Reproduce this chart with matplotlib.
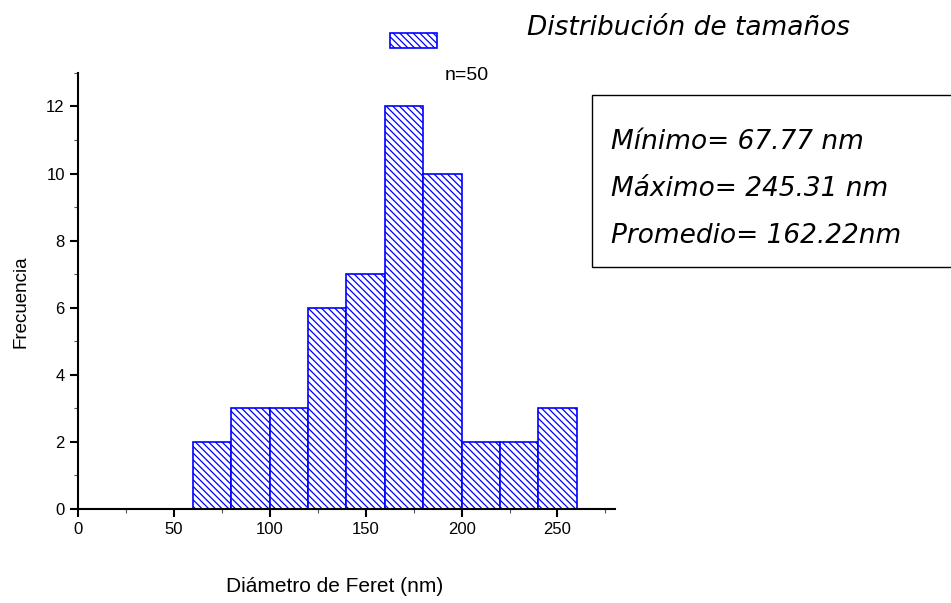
import matplotlib.pyplot as plt
from matplotlib.ticker import MultipleLocator

# Histogram bins (nm) and counts
bin_edges = [60, 80, 100, 120, 140, 160, 180, 200, 220, 240, 260]
counts = [2, 3, 3, 6, 7, 12, 10, 2, 2, 3]

stats_lines = ["Mínimo= 67.77 nm", "Máximo= 245.31 nm", "Promedio= 162.22nm"]

plt.rcParams['font.family'] = ['Liberation Sans', 'DejaVu Sans']
plt.rcParams['hatch.linewidth'] = 0.9
plt.rcParams['hatch.color'] = 'blue'

fig = plt.figure(figsize=(9.51, 6.03), dpi=100)
ax = fig.add_axes([0.082, 0.1564, 0.5647, 0.7226])

lefts = bin_edges[:-1]
widths = [b - a for a, b in zip(bin_edges[:-1], bin_edges[1:])]
ax.bar(lefts, counts, width=widths, align='edge', facecolor='white',
       edgecolor='blue', linewidth=1.2, hatch='\\' * 5, label=' ')

ax.set_xlim(0, 280)
ax.set_ylim(0, 13)
ax.spines['top'].set_visible(False)
ax.spines['right'].set_visible(False)
ax.spines['left'].set_linewidth(1.5)
ax.spines['bottom'].set_linewidth(1.5)
ax.xaxis.set_major_locator(MultipleLocator(50))
ax.xaxis.set_minor_locator(MultipleLocator(25))
ax.yaxis.set_major_locator(MultipleLocator(2))
ax.yaxis.set_minor_locator(MultipleLocator(1))
ax.tick_params(which='major', length=6, width=1.5, labelsize=12)
ax.tick_params(which='minor', length=3, width=0.8, color='#555555')

fig.text(0.022, 0.5, 'Frecuencia', rotation=90, va='center', ha='center', fontsize=13.5)
fig.text(0.352, 0.028, 'Diámetro de Feret (nm)', va='center', ha='center', fontsize=15)

leg = ax.legend(loc='upper left', bbox_to_anchor=(0.555, 1.125), frameon=False,
                fontsize=11.5, handlelength=2.94, handleheight=1.06)

fig.text(0.468, 0.875, 'n=50', fontsize=14, va='center')
fig.text(0.554, 0.953, 'Distribución de tamaños', fontsize=19, style='italic',
         family='DejaVu Sans', va='center')

# stats box
box = plt.Rectangle((0.623, 0.558), 0.4, 0.285, transform=fig.transFigure,
                    facecolor='white', edgecolor='black', linewidth=1)
fig.add_artist(box)
for i, line in enumerate(stats_lines):
    fig.text(0.643, 0.765 - i * 0.078, line, fontsize=19, style='italic',
             family='DejaVu Sans', va='center')

plt.savefig("out.png", dpi=100)
